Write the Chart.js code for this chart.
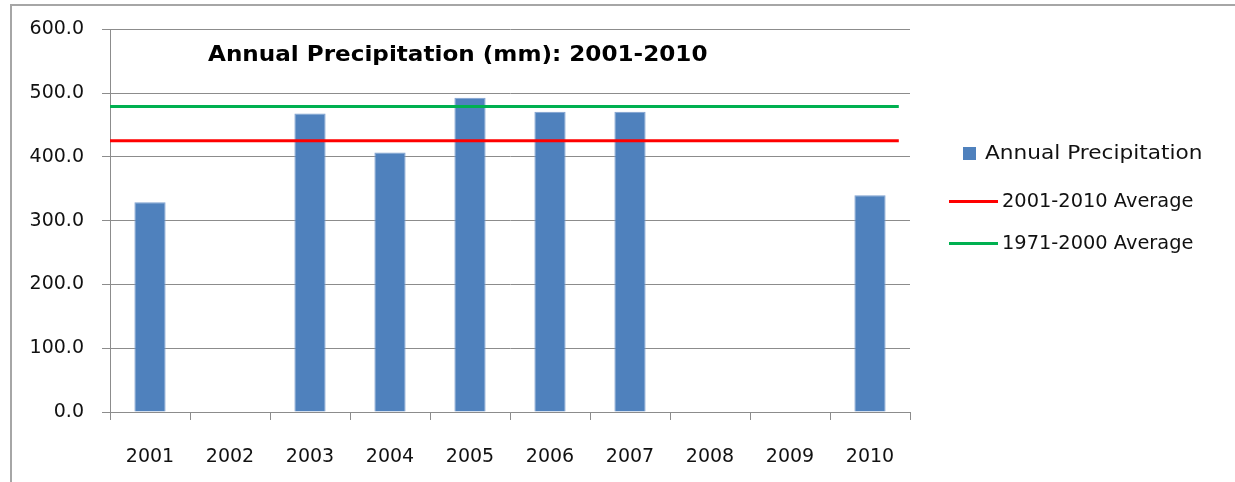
<!DOCTYPE html>
<html>
<head>
<meta charset="utf-8">
<script src="https://cdn.jsdelivr.net/npm/chart.js@4/dist/chart.umd.min.js"></script>
<style>
  html, body { margin: 0; padding: 0; background: #fff; }
  #wrap { position: relative; width: 1235px; height: 482px; overflow: hidden; }
  #frame { position: absolute; left: 10px; top: 4px; width: 1400px; height: 600px;
           border-left: 2px solid #a6a6a6; border-top: 2px solid #a6a6a6; box-sizing: border-box; }
  canvas { position: absolute; left: 0; top: 0; }
  #title { position: absolute; left: 208px; top: 42px; font: bold 21px "DejaVu Sans", sans-serif;
           transform: scaleX(1.1); transform-origin: 0 0; color: #000; white-space: nowrap; }
  .leg { position: absolute; font: 19px "DejaVu Sans", sans-serif; color: #111; white-space: nowrap;
         transform-origin: 0 0; }
  .sw { position: absolute; }
</style>
</head>
<body>
<div id="wrap">
  <div id="frame"></div>
  <canvas id="c" width="1235" height="482"></canvas>
  <div id="title">Annual Precipitation (mm): 2001-2010</div>
  <div class="sw" style="left:963px; top:147px; width:13px; height:13px; background:#4f81bd;"></div>
  <div class="leg" style="left:985px; top:141px; transform:scaleX(1.14);">Annual Precipitation</div>
  <div class="sw" style="left:949px; top:200px; width:49px; height:3px; background:#ff0000;"></div>
  <div class="leg" style="left:1002px; top:189px; transform:scaleX(1.02);">2001-2010 Average</div>
  <div class="sw" style="left:949px; top:242px; width:49px; height:3px; background:#00b050;"></div>
  <div class="leg" style="left:1002px; top:231px; transform:scaleX(1.02);">1971-2000 Average</div>
</div>
<script>
const years = ['2001','2002','2003','2004','2005','2006','2007','2008','2009','2010'];
const precipitation = [329, null, 468, 407, 493, 471, 471, null, null, 340];
const avg2001_2010 = 425.5;
const avg1971_2000 = 479;
const avgLineSpan = [0, 9.86];
const yTicks = [0, 100, 200, 300, 400, 500, 600];

const ctx = document.getElementById('c').getContext('2d');
new Chart(ctx, {
  type: 'bar',
  data: {
    labels: years,
    datasets: [
      {
        type: 'bar',
        label: 'Annual Precipitation',
        data: precipitation,
        backgroundColor: '#4f81bd',
        borderColor: '#7d9fd0',
        borderWidth: 1,
        barPercentage: 0.39,
        categoryPercentage: 1.0,
        grouped: false,
        xAxisID: 'x',
        order: 2
      },
      {
        type: 'line',
        label: '2001-2010 Average',
        data: avgLineSpan.map(v => ({x: v, y: avg2001_2010})),
        borderColor: '#ff0000',
        borderWidth: 3,
        pointRadius: 0,
        xAxisID: 'x2',
        order: 1
      },
      {
        type: 'line',
        label: '1971-2000 Average',
        data: avgLineSpan.map(v => ({x: v, y: avg1971_2000})),
        borderColor: '#00b050',
        borderWidth: 3,
        pointRadius: 0,
        xAxisID: 'x2',
        order: 0
      }
    ]
  },
  options: {
    responsive: false,
    animation: false,
    layout: { padding: { left: 0, top: 29, right: 325, bottom: 0 } },
    plugins: { legend: { display: false }, title: { display: false }, tooltip: { enabled: false } },
    scales: {
      x: {
        type: 'category',
        offset: true,
        grid: { display: true, drawOnChartArea: false, drawTicks: true, tickLength: 8, offset: true, color: '#8c8c8c', lineWidth: 1 },
        border: { display: true, color: '#8c8c8c', width: 1 },
        ticks: { color: '#111', font: { family: 'DejaVu Sans', size: 19 }, padding: 26, maxRotation: 0, autoSkip: false },
        afterFit: s => { s.height = 70; }
      },
      x2: {
        type: 'linear',
        display: false,
        offset: false,
        min: 0,
        max: 10
      },
      y: {
        min: 0,
        max: 600,
        afterBuildTicks: s => { s.ticks = yTicks.map(v => ({ value: v })); },
        grid: { color: '#8c8c8c', lineWidth: 1, tickLength: 8, drawTicks: true },
        border: { display: true, color: '#8c8c8c', width: 1 },
        ticks: { color: '#111', font: { family: 'DejaVu Sans', size: 19 }, padding: 18,
                 callback: v => Number(v).toFixed(1) },
        afterFit: s => { s.width = 110; }
      }
    }
  }
});
</script>
</body>
</html>
